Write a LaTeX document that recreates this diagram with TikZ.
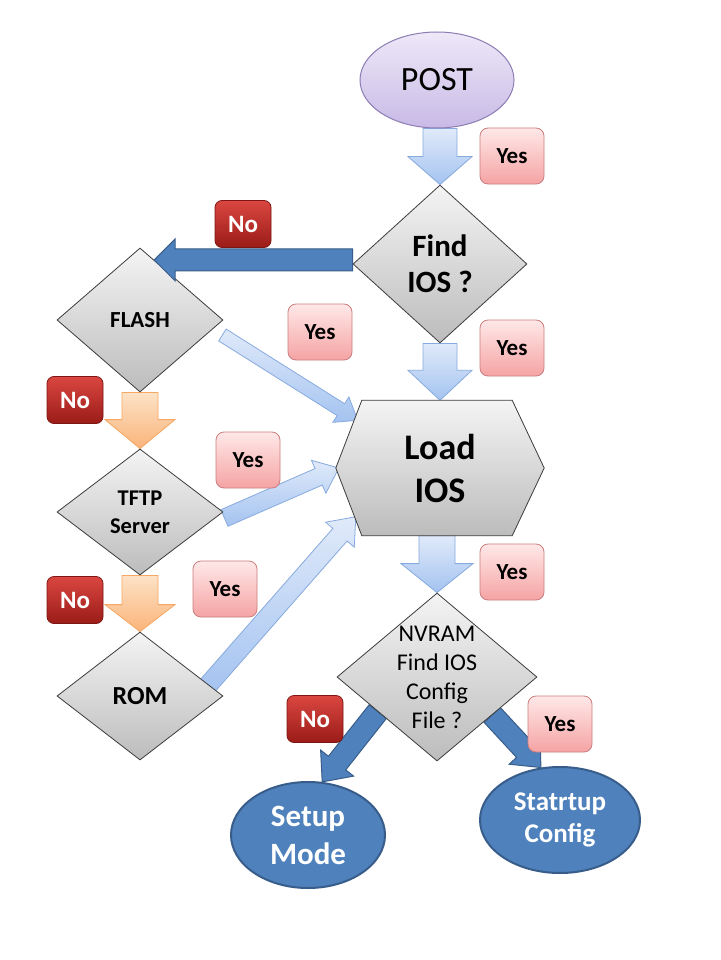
\documentclass[tikz,border=0pt]{standalone}
\usepackage{fontspec}
\setmainfont{Carlito}
\usetikzlibrary{shapes.geometric,calc}
\definecolor{graytop}{RGB}{244,244,244}
\definecolor{graybot}{RGB}{188,188,188}
\definecolor{grayline}{RGB}{60,60,60}
\definecolor{posttop}{RGB}{238,232,248}
\definecolor{postbot}{RGB}{200,186,230}
\definecolor{postline}{RGB}{140,125,180}
\definecolor{lbtop}{RGB}{224,234,250}
\definecolor{lbbot}{RGB}{164,195,240}
\definecolor{lbline}{RGB}{135,170,222}
\definecolor{ortop}{RGB}{253,226,198}
\definecolor{orbot}{RGB}{250,180,122}
\definecolor{orline}{RGB}{244,168,100}
\definecolor{dblue}{RGB}{79,129,189}
\definecolor{dbline}{RGB}{56,93,138}
\definecolor{yestop}{RGB}{255,232,232}
\definecolor{yesbot}{RGB}{245,163,163}
\definecolor{yesline}{RGB}{205,125,125}
\definecolor{notop}{RGB}{218,70,64}
\definecolor{nobot}{RGB}{155,28,24}
\definecolor{noline}{RGB}{125,22,20}
\pgfdeclarelayer{back}
\pgfdeclarelayer{bg}
\pgfsetlayers{back,bg,main}
\newcommand\fsz[2]{\fontsize{#1}{#2}\selectfont}
% #1 style, #2 start, #3 tip, #4 shaft half width, #5 head half width, #6 head length
\newcommand\blockarrow[6]{%
  \coordinate (bah) at ($(#3)!#6!(#2)$);
  \path[#1] ($(#2)!#4!90:(#3)$) -- ($(bah)!#4!90:(#3)$) -- ($(bah)!#5!90:(#3)$) -- (#3)
    -- ($(bah)!#5!-90:(#3)$) -- ($(bah)!#4!-90:(#3)$) -- ($(#2)!#4!-90:(#3)$) -- cycle;}
\begin{document}
\begin{tikzpicture}[x=1pt,y=-1pt,
  dia/.style={diamond, draw=grayline, line width=0.8pt, top color=graytop, bottom color=graybot, inner sep=0pt},
  hexst/.style={draw=grayline, line width=0.8pt, top color=graytop, bottom color=graybot},
  postst/.style={ellipse, draw=postline, line width=1pt, top color=posttop, bottom color=postbot, inner sep=0pt, minimum width=154pt, minimum height=96pt, font=\fsz{34}{40}},
  dbell/.style={ellipse, draw=dbline, line width=2pt, fill=dblue, inner sep=0pt, text=white, align=center},
  lblue/.style={draw=lbline, line width=0.8pt, top color=lbtop, bottom color=lbbot},
  orng/.style={draw=orline, line width=0.8pt, top color=ortop, bottom color=orbot},
  dbarrow/.style={draw=dbline, line width=1pt, fill=dblue},
  yesbox/.style={rectangle, rounded corners=8pt, draw=yesline, line width=0.8pt, top color=yestop, bottom color=yesbot, minimum width=64pt, minimum height=56pt, inner sep=0pt, font=\bfseries\fsz{23}{28}},
  nobox/.style={rectangle, rounded corners=7pt, draw=noline, line width=0.8pt, top color=notop, bottom color=nobot, minimum width=56pt, minimum height=47pt, inner sep=0pt, text=white, font=\bfseries\fsz{25}{30}},
  dtext/.style={align=center}
]
\begin{pgfonlayer}{back}
\fill[white] (0,0) rectangle (720,960);
\end{pgfonlayer}
\useasboundingbox (0,0) rectangle (720,960);

% main nodes
\node[postst] (post) at (437,80) {POST};
\node[dia, minimum width=174pt, minimum height=158pt] (find) at (440,264) {};
\node[dtext, font=\bfseries\fsz{31}{36}] at (find) {Find\\IOS ?};
\node[dia, minimum width=166pt, minimum height=144pt] (flash) at (140,320) {};
\node[dtext, font=\bfseries\fsz{23}{27}] at (flash) {FLASH};
\node[dia, minimum width=166pt, minimum height=126pt] (tftp) at (140,512) {};
\node[dtext, font=\bfseries\fsz{22.5}{28}] at (tftp) {TFTP\\Server};
\node[dia, minimum width=166pt, minimum height=128pt] (rom) at (140,696) {};
\node[dtext, font=\bfseries\fsz{26}{30}] at (rom) {ROM};
\node[minimum width=208pt, minimum height=135pt, inner sep=0pt, dtext, font=\bfseries\fsz{36}{43}] (load) at (440,468) {Load\\IOS};
\node[dia, minimum width=200pt, minimum height=168pt] (nvram) at (437,677) {};
\node[dtext, font=\fsz{24}{29}] at (nvram) {NVRAM\\Find IOS\\Config\\File ?};
\node[dbell, minimum width=154pt, minimum height=106pt, font=\bfseries\fsz{31}{38}] (setup) at (308,835) {Setup\\Mode};
\node[dbell, minimum width=160pt, minimum height=106pt, font=\bfseries\fsz{27}{32}] (startup) at (560,820) {Statrtup\\Config};

% connector end points
\coordinate (p0) at (find.north |- post.south);
\coordinate (l0) at (nvram.north |- load.south);
\coordinate (a1s) at ($(flash.east)+(-1,15)$);
\coordinate (a1e) at ($(load.north west)+(22,20)$);
\coordinate (a2s) at ($(tftp.east)+(1,6)$);
\coordinate (a2e) at ($(load.west)+(3,0)$);
\coordinate (a3s) at ($(rom.east)+(-17,-9)$);
\coordinate (a3e) at ($(load.south west)+(20,-19)$);
\coordinate (a4s) at ($(nvram.west)!0.41!(nvram.south)$);
\coordinate (a5s) at ($(nvram.east)!0.45!(nvram.south)$);
\coordinate (noT) at ($(flash.north)!0.17!(flash.east)$);
\coordinate (noS) at (find.west |- noT);

\begin{pgfonlayer}{bg}
\blockarrow{lblue}{p0}{find.north}{17pt}{32pt}{28pt}
\blockarrow{lblue}{find.south}{load.north}{17pt}{32pt}{30pt}
\blockarrow{lblue}{l0}{nvram.north}{18pt}{36pt}{29pt}
\blockarrow{orng}{flash.south}{tftp.north}{18pt}{35pt}{29pt}
\blockarrow{orng}{tftp.south}{rom.north}{18pt}{35pt}{27pt}
\blockarrow{lblue}{a1s}{a1e}{7pt}{15pt}{20pt}
\blockarrow{lblue}{a2s}{a2e}{9pt}{18pt}{22pt}
\blockarrow{lblue}{a3s}{a3e}{9.5pt}{19pt}{24pt}
\blockarrow{dbarrow}{a4s}{setup.75}{11pt}{21pt}{24pt}
\blockarrow{dbarrow}{a5s}{startup.110}{11pt}{21pt}{24pt}
\path[hexst] ($(load.north west)+(26,0)$) -- ($(load.north east)+(-32,0)$) -- (load.east)
  -- ($(load.south east)+(-32,0)$) -- ($(load.south west)+(26,0)$) -- (load.west) -- cycle;
\end{pgfonlayer}

\blockarrow{dbarrow}{noS}{noT}{11pt}{21pt}{21pt}

% labels
\node[yesbox] (y1) at (512,156) {Yes};
\node[yesbox] (y2) at (320,332) {Yes};
\node[yesbox] (y3) at (512,348) {Yes};
\node[yesbox] (y4) at (248,460) {Yes};
\node[yesbox] (y5) at (225,589) {Yes};
\node[yesbox] (y6) at (512,572) {Yes};
\node[yesbox] (y7) at (560,724) {Yes};
\node[nobox] (n1) at (243,224) {No};
\node[nobox] (n2) at (75,400) {No};
\node[nobox] (n3) at (75,600) {No};
\node[nobox] (n4) at (315,719) {No};
\end{tikzpicture}
\end{document}
